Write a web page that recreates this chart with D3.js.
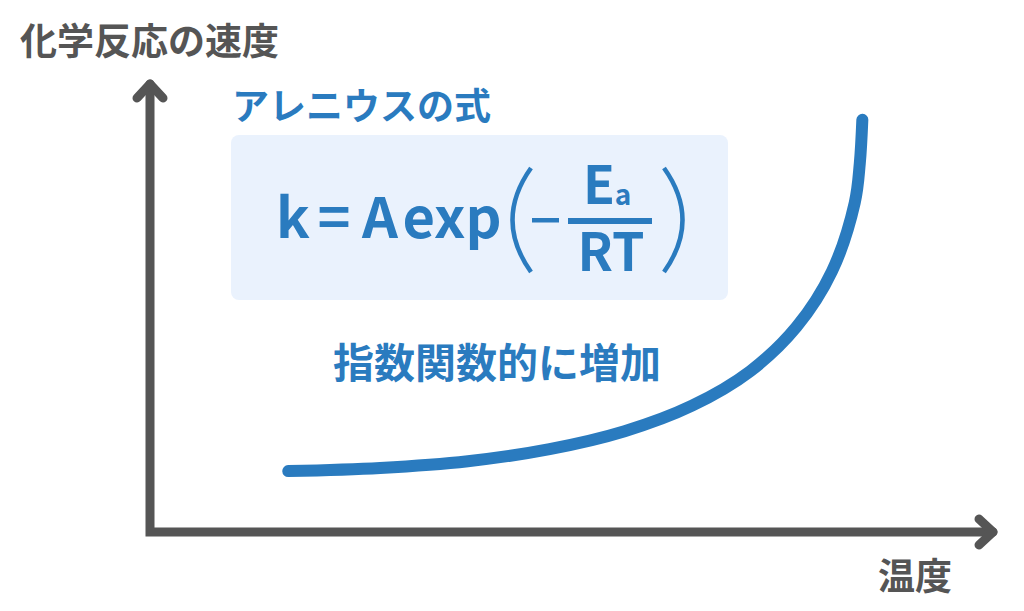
<!DOCTYPE html>
<html><head><meta charset="utf-8">
<script src="https://cdn.jsdelivr.net/npm/d3@7"></script>
<style>html,body{margin:0;padding:0;background:#fff;}svg{display:block;}</style>
</head><body>
<div id="chart"></div>
<script>
// Data (temperature vs reaction rate, arbitrary units 0-100)
const temperature = [16.4, 27.3, 37.7, 47.4, 56.3, 64.3, 71.2, 76.7, 80.9, 83.6, 84.2, 84.5];
const rate        = [13.6, 14.3, 15.8, 18.5, 22.5, 28.2, 35.9, 45.8, 58.2, 73.5, 82.3, 92.0];
const yAxisLabel = "化学反応の速度";
const xAxisLabel = "温度";
const formulaTitle = "アレニウスの式";
const curveLabel = "指数関数的に増加";

const W = 1024, H = 611;
const blue = "#2a7bbf", gray = "#555555";
const font = "'Noto Sans CJK JP', 'Noto Sans', sans-serif";

const svg = d3.select("#chart").append("svg").attr("width", W).attr("height", H);

const x = d3.scaleLinear().domain([0, 100]).range([150, 993]);
const y = d3.scaleLinear().domain([0, 100]).range([532, 84]);

// Axes
const [x0, x1] = x.range();
const [y0, y1] = y.range();
svg.append("path")
  .attr("d", `M${x0},${y1} L${x0},${y0} L${x1},${y0}`)
  .attr("fill", "none").attr("stroke", gray).attr("stroke-width", 9)
  .attr("stroke-linejoin", "miter").attr("stroke-linecap", "round");
svg.append("path")
  .attr("d", `M${x0 - 13},${y1 + 14} L${x0},${y1} L${x0 + 13},${y1 + 14}`)
  .attr("fill", "none").attr("stroke", gray).attr("stroke-width", 9)
  .attr("stroke-linejoin", "round").attr("stroke-linecap", "round");
svg.append("path")
  .attr("d", `M${x1 - 14},${y0 - 13} L${x1},${y0} L${x1 - 14},${y0 + 13}`)
  .attr("fill", "none").attr("stroke", gray).attr("stroke-width", 9)
  .attr("stroke-linejoin", "round").attr("stroke-linecap", "round");

// Axis labels
svg.append("text").attr("x", 20).attr("y", 55).text(yAxisLabel)
  .attr("font-family", font).attr("font-weight", 700).attr("font-size", 37).attr("fill", gray);
svg.append("text").attr("x", 878).attr("y", 590).text(xAxisLabel)
  .attr("font-family", font).attr("font-weight", 700).attr("font-size", 37).attr("fill", gray);

// Curve
const pts = temperature.map((t, i) => [t, rate[i]]);
const line = d3.line().x(d => x(d[0])).y(d => y(d[1])).curve(d3.curveCatmullRom.alpha(0.5));
svg.append("path").datum(pts).attr("d", line)
  .attr("fill", "none").attr("stroke", blue).attr("stroke-width", 12)
  .attr("stroke-linecap", "round").attr("stroke-linejoin", "round");

// Formula title and box
svg.append("text").attr("x", 232).attr("y", 120).text(formulaTitle)
  .attr("font-family", font).attr("font-weight", 700).attr("font-size", 37).attr("fill", blue);
svg.append("rect").attr("x", 231).attr("y", 135).attr("width", 497).attr("height", 165)
  .attr("rx", 8).attr("fill", "#eaf2fd");

const fg = svg.append("g").attr("fill", blue).attr("font-family", font).attr("font-weight", 700)
  .attr("text-anchor", "middle");
fg.append("text").attr("x", 293).attr("y", 238).attr("font-size", 56).text("k");
fg.append("text").attr("x", 334).attr("y", 238).attr("font-size", 56).text("=");
fg.append("text").attr("x", 380).attr("y", 238).attr("font-size", 56).text("A");
fg.append("text").attr("x", 452).attr("y", 238).attr("font-size", 56).text("exp");
// parentheses
fg.append("path").attr("d", "M531,168 Q494,220 531,272").attr("fill", "none")
  .attr("stroke", blue).attr("stroke-width", 4.5);
fg.append("path").attr("d", "M664,168 Q701,220 664,272").attr("fill", "none")
  .attr("stroke", blue).attr("stroke-width", 4.5);
// minus
fg.append("rect").attr("x", 532).attr("y", 218).attr("width", 27).attr("height", 4.5);
// fraction bar
fg.append("rect").attr("x", 568).attr("y", 218).attr("width", 84).attr("height", 6);
fg.append("text").attr("x", 599).attr("y", 204).attr("font-size", 52).text("E");
fg.append("text").attr("x", 623).attr("y", 205).attr("font-size", 28).text("a");
fg.append("text").attr("x", 611).attr("y", 271).attr("font-size", 52).text("RT");

// Curve label
svg.append("text").attr("x", 333).attr("y", 378).text(curveLabel)
  .attr("font-family", font).attr("font-weight", 700).attr("font-size", 41).attr("fill", blue);
</script>
</body></html>
